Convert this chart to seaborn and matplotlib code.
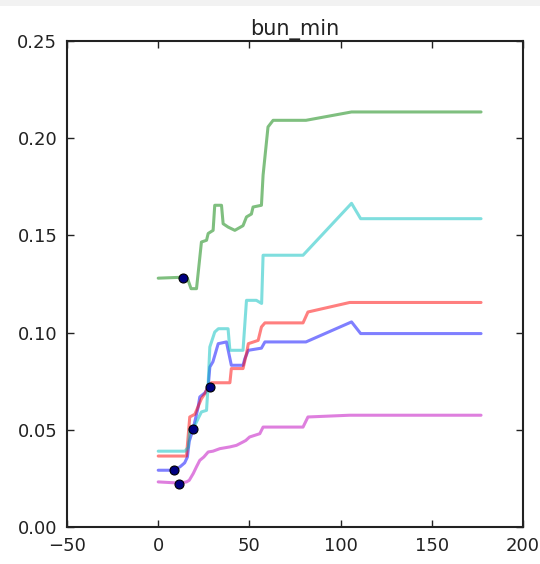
import matplotlib
matplotlib.use("Agg")
import matplotlib.pyplot as plt
import seaborn as sns
import pandas as pd
from matplotlib.patches import Rectangle

title = "bun_min"

# Individual response curves (feature value -> predicted probability)
blue_x = [0, 8.6, 12, 14.5, 16, 17, 19.2, 21.9, 22.8, 25.6, 27.4, 28.3, 30, 32.9, 37.4,
          40.1, 46.5, 47.5, 49.4, 56.6, 58.5, 81, 106, 111, 177]
blue_y = [0.0292, 0.0292, 0.031, 0.033, 0.036, 0.044, 0.0506, 0.0617, 0.0669, 0.069, 0.072,
          0.0823, 0.085, 0.0943, 0.0952, 0.0832, 0.0832, 0.0866, 0.0909, 0.092, 0.0952,
          0.0952, 0.1055, 0.0995, 0.0995]

green_x = [0, 14, 16, 18, 21, 23.7, 26.5, 27.4, 30.1, 31, 34.7, 35.6, 38.3, 42, 46.5,
           48.4, 51.1, 52, 56.6, 57.5, 60.2, 63, 81, 106, 111, 177]
green_y = [0.128, 0.1285, 0.128, 0.1226, 0.1226, 0.1466, 0.1475, 0.151, 0.1526, 0.1655,
           0.1655, 0.156, 0.1543, 0.1526, 0.155, 0.1595, 0.161, 0.1646, 0.1655, 0.181,
           0.2058, 0.2092, 0.2092, 0.2135, 0.2135, 0.2135]

red_x = [0, 15.5, 17.3, 20.1, 23.7, 25.6, 27.4, 29.2, 39.3, 40.1, 46.5, 48.4, 49.4, 54.8,
         56.6, 58.5, 79.4, 82.1, 105, 177]
red_y = [0.0365, 0.0365, 0.0566, 0.058, 0.066, 0.0686, 0.072, 0.0742, 0.0742, 0.0815,
         0.0815, 0.0892, 0.0943, 0.096, 0.1029, 0.105, 0.105, 0.1106, 0.1155, 0.1155]

cyan_x = [0, 14.6, 16.5, 17.3, 19.2, 22, 23.7, 26.5, 27.4, 28.3, 31, 33, 38.3, 39.3, 46.5,
          48.4, 53.8, 56.7, 57.5, 79.4, 106, 111, 177]
cyan_y = [0.039, 0.039, 0.041, 0.05, 0.0506, 0.056, 0.0592, 0.06, 0.0738, 0.0926, 0.1003,
          0.102, 0.102, 0.0909, 0.0909, 0.1166, 0.1166, 0.115, 0.1398, 0.1398, 0.1665,
          0.1586, 0.1586]

magenta_x = [0, 11.5, 15.5, 17, 19.2, 21, 22.8, 25, 27.4, 30, 33.8, 39.3, 42.9, 46.4, 48,
             50.1, 55.7, 57.5, 79.4, 82.1, 105, 177]
magenta_y = [0.0232, 0.0226, 0.0232, 0.024, 0.0275, 0.031, 0.0343, 0.036, 0.0386, 0.039,
             0.0403, 0.0412, 0.042, 0.0437, 0.0445, 0.0463, 0.048, 0.0514, 0.0514, 0.0566,
             0.0575, 0.0575]

# Observed feature value of each sample
obs_x = [8.6, 13.7, 28.3, 19.2, 11.5]
obs_y = [0.0292, 0.1283, 0.072, 0.0506, 0.0223]

series = [
    (blue_x, blue_y, "b"),
    (green_x, green_y, "g"),
    (red_x, red_y, "r"),
    (cyan_x, cyan_y, "c"),
    (magenta_x, magenta_y, "m"),
]

sns.set_style("white")
plt.rcParams["font.family"] = ["DejaVu Sans"]

fig = plt.figure(figsize=(5.4, 5.64), dpi=100)
ax = fig.add_axes([0.1241, 0.0656, 0.8444, 0.8617])

for xs, ys, col in series:
    df = pd.DataFrame({"x": xs, "y": ys})
    sns.lineplot(data=df, x="x", y="y", color=col, alpha=0.5, linewidth=2.2,
                 sort=False, estimator=None, ax=ax)

obs = pd.DataFrame({"x": obs_x, "y": obs_y})
sns.scatterplot(data=obs, x="x", y="y", color="navy", edgecolor="black",
                linewidth=0.8, s=42, zorder=5, ax=ax)

ax.set_xlim(-50, 200)
ax.set_ylim(0, 0.25)
ax.set_xticks([-50, 0, 50, 100, 150, 200])
ax.set_yticks([0.0, 0.05, 0.10, 0.15, 0.20, 0.25])
ax.set_yticklabels(["0.00", "0.05", "0.10", "0.15", "0.20", "0.25"])
ax.set_xlabel("")
ax.set_ylabel("")
ax.set_title(title, fontsize=15, pad=4, color="#222222")

for sp in ax.spines.values():
    sp.set_visible(True)
    sp.set_color("#222222")
    sp.set_linewidth(1.5)
ax.tick_params(direction="in", length=5, width=1, top=True, right=True,
               bottom=True, left=True, labelsize=13, colors="#222222", pad=7)

# thin grey band along the top edge
fig.patches.append(Rectangle((0, 1 - 6 / 564), 1, 6 / 564, transform=fig.transFigure,
                             facecolor="#f2f2f2", edgecolor="none", zorder=0))

fig.savefig("out.png", dpi=100)
